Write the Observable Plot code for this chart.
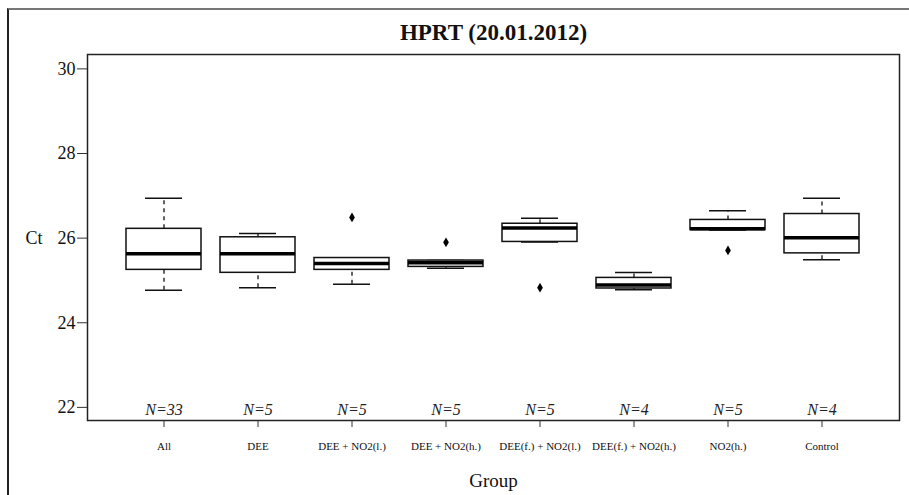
<!DOCTYPE html>
<html>
<head>
<meta charset="utf-8">
<script src="https://cdn.jsdelivr.net/npm/d3@7"></script>
<script src="https://cdn.jsdelivr.net/npm/@observablehq/plot@0.6"></script>
<style>
  body { margin: 0; background: #fff; }
  #wrap { position: relative; width: 909px; height: 495px; overflow: hidden; }
  #border { position: absolute; left: 7px; top: 8px; width: 920px; height: 500px;
            border-top: 2px solid #777; border-left: 2px solid #222; pointer-events: none; }
</style>
</head>
<body>
<div id="wrap"><div id="border"></div></div>
<script>
const groups = ["All", "DEE", "DEE + NO2(l.)", "DEE + NO2(h.)", "DEE(f.) + NO2(l.)", "DEE(f.) + NO2(h.)", "NO2(h.)", "Control"];
const lowerWhisker = [24.77, 24.83, 24.91, 25.29, 25.91, 24.78, 26.19, 25.49];
const q1           = [25.25, 25.18, 25.25, 25.32, 25.91, 24.81, 26.19, 25.64];
const median       = [25.63, 25.63, 25.40, 25.42, 26.24, 24.89, 26.22, 26.01];
const q3           = [26.22, 26.02, 25.53, 25.47, 26.34, 25.06, 26.43, 26.57];
const upperWhisker = [26.94, 26.11, 25.53, 25.47, 26.47, 25.19, 26.65, 26.94];
const counts       = [33, 5, 5, 5, 5, 4, 5, 4];
const outlierGroups = ["DEE + NO2(l.)", "DEE + NO2(h.)", "DEE(f.) + NO2(l.)", "NO2(h.)"];
const outlierValues = [26.49, 25.90, 24.83, 25.71];
const yTicks = [22, 24, 26, 28, 30];

const boxes = groups.map((g, i) => ({
  group: g, lo: lowerWhisker[i], q1: q1[i], med: median[i], q3: q3[i], hi: upperWhisker[i], n: counts[i]
}));
const outliers = outlierGroups.map((g, i) => ({group: g, value: outlierValues[i]}));

const chart = Plot.plot({
  width: 909,
  height: 495,
  marginTop: 54,
  marginLeft: 87,
  marginRight: 10,
  marginBottom: 75,
  style: {fontFamily: "'Liberation Serif', 'DejaVu Serif', serif", color: "#111", background: "transparent"},
  x: {type: "band", domain: groups, paddingInner: 0.2, paddingOuter: 0.415},
  y: {domain: [21.69, 30.34]},
  marks: [
    Plot.frame({stroke: "#222", strokeWidth: 1.5}),
    Plot.ruleX(boxes, {x: "group", y1: "q3", y2: "hi", stroke: "#111", strokeWidth: 1.3, strokeDasharray: "4,4"}),
    Plot.ruleX(boxes, {x: "group", y1: "lo", y2: "q1", stroke: "#111", strokeWidth: 1.3, strokeDasharray: "4,4"}),
    Plot.tickY(boxes, {x: "group", y: "hi", stroke: "#111", strokeWidth: 1.5, insetLeft: 19, insetRight: 19}),
    Plot.tickY(boxes, {x: "group", y: "lo", stroke: "#111", strokeWidth: 1.5, insetLeft: 19, insetRight: 19}),
    Plot.barY(boxes, {x: "group", y1: "q1", y2: "q3", fill: "white", stroke: "#111", strokeWidth: 1.5}),
    Plot.tickY(boxes, {x: "group", y: "med", stroke: "#000", strokeWidth: 3.5}),
    Plot.dot(outliers, {x: "group", y: "value", symbol: "diamond", fill: "#000", r: 3}),
    Plot.text(boxes, {x: "group", text: d => `N=${d.n}`, frameAnchor: "bottom", dy: -11, lineAnchor: "middle",
      fontStyle: "italic", fontSize: 16, fill: "#222"}),
    Plot.axisY({ticks: yTicks, tickSize: 10, tickPadding: 2, fontSize: 18, label: null, stroke: "#333"}),
    Plot.axisX({tickSize: 7, tickPadding: 15, fontSize: 11, label: null, stroke: "#333"}),
    Plot.text(["Ct"], {y: [26], frameAnchor: "left", dx: -45, textAnchor: "end", lineAnchor: "middle", fontSize: 18}),
    Plot.text(["Group"], {frameAnchor: "bottom", dy: 60, lineAnchor: "middle", fontSize: 19}),
    Plot.text(["HPRT (20.01.2012)"], {frameAnchor: "top", dy: -22, lineAnchor: "middle", fontSize: 23, fontWeight: "bold"})
  ]
});
document.getElementById("wrap").prepend(chart);
</script>
</body>
</html>
